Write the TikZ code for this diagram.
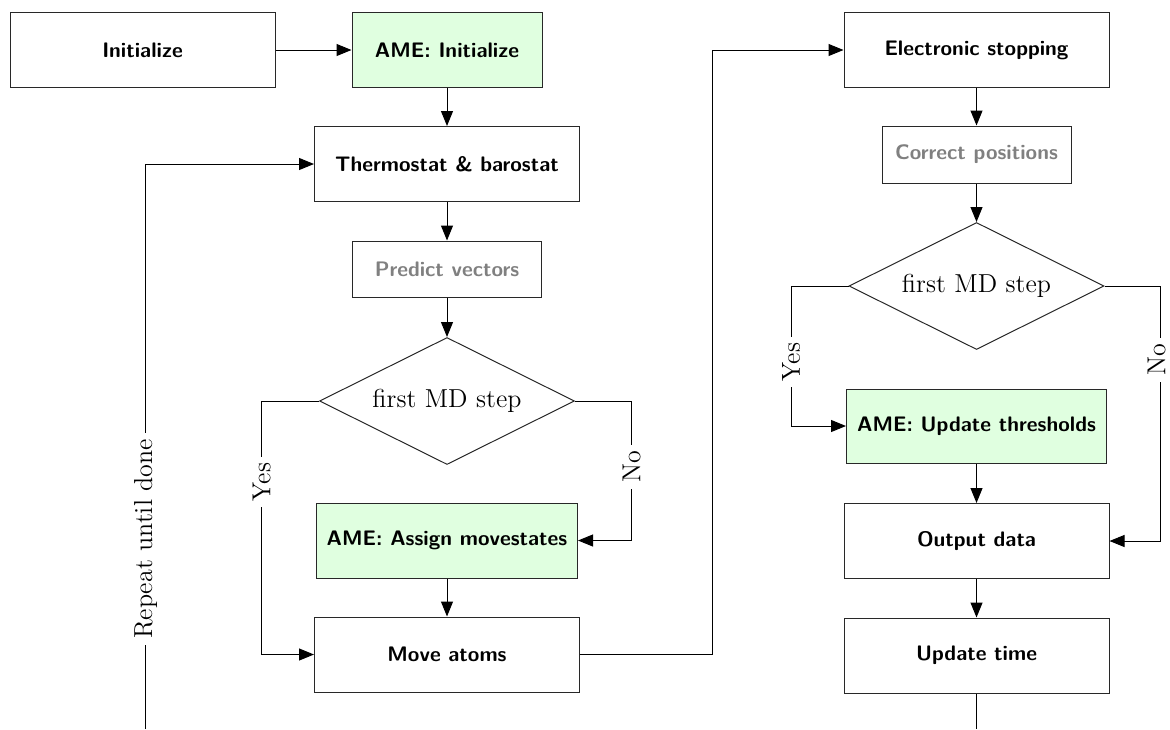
\documentclass[tikz,border=0pt]{standalone}
\usetikzlibrary{shapes.geometric,arrows.meta}
\definecolor{amegreen}{RGB}{224,255,224}
\definecolor{boxline}{RGB}{40,40,40}
\tikzset{
  box/.style={draw=boxline, line width=0.5pt, rectangle, minimum width=132.5pt, minimum height=37.5pt,
    inner sep=0pt, font=\fontsize{10.5}{12}\selectfont\sffamily\bfseries, align=center},
  amebox/.style={box, fill=amegreen},
  smallbox/.style={box, minimum width=94.5pt, minimum height=28pt, text=gray},
  decision/.style={draw=boxline, line width=0.5pt, diamond, minimum width=127.5pt, minimum height=63.5pt,
    inner sep=0pt, aspect=2, font=\fontsize{13}{15}\selectfont},
  arr/.style={line width=0.5pt, -{Triangle[length=7.5pt,width=6pt]}},
  ln/.style={line width=0.5pt},
  lab/.style={rotate=90, fill=white, inner sep=3pt, font=\fontsize{13}{15}\selectfont}
}
\begin{document}
\begin{tikzpicture}[x=0.5pt,y=-0.5pt]
\useasboundingbox (0,0) rectangle (1170,729);
% nodes
\node[box] (init) at (142.5,50) {Initialize};
\node[amebox, minimum width=95pt] (ameinit) at (447,50) {AME: Initialize};
\node[box] (thermo) at (447,164) {Thermostat \& barostat};
\node[smallbox] (predict) at (447,269) {Predict vectors};
\node[decision] (d1) at (447,401) {first MD step};
\node[amebox, minimum width=130.5pt] (assign) at (447,540.5) {AME: Assign movestates};
\node[box] (move) at (447,654.5) {Move atoms};
\node[box] (estop) at (976.5,50) {Electronic stopping};
\node[smallbox, minimum height=28.5pt] (correct) at (976.5,154.5) {Correct positions};
\node[decision] (d2) at (976.5,286) {first MD step};
\node[amebox, minimum width=130pt, minimum height=37pt] (upd) at (976.5,426) {AME: Update thresholds};
\node[box] (output) at (976.5,541) {Output data};
\node[box] (update) at (976.5,655.5) {Update time};
% helper coordinates
\coordinate (yes1x) at (261.7,0);
\coordinate (no1x) at (631.7,0);
\coordinate (yes2x) at (791,0);
\coordinate (no2x) at (1160.5,0);
\coordinate (runx) at (712,0);
\coordinate (repx) at (145.5,0);
\coordinate (bottom) at (0,729);
% connectors
\draw[arr] (init.east) -- (ameinit.west);
\draw[arr] (ameinit.south) -- (thermo.north);
\draw[arr] (thermo.south) -- (predict.north);
\draw[arr] (predict.south) -- (d1.north);
\draw[arr] (d1.west) -- (d1.west -| yes1x) -- (move.west -| yes1x) -- (move.west);
\draw[arr] (d1.east) -- (d1.east -| no1x) -- (assign.east -| no1x) -- (assign.east);
\draw[arr] (assign.south) -- (move.north);
\draw[arr] (move.east) -- (move.east -| runx) -- (estop.west -| runx) -- (estop.west);
\draw[arr] (estop.south) -- (correct.north);
\draw[arr] (correct.south) -- (d2.north);
\draw[arr] (d2.west) -- (d2.west -| yes2x) -- (upd.west -| yes2x) -- (upd.west);
\draw[arr] (d2.east) -- (d2.east -| no2x) -- (output.east -| no2x) -- (output.east);
\draw[arr] (upd.south) -- (output.north);
\draw[arr] (output.south) -- (update.north);
\draw[ln] (update.south) -- (update.south |- bottom);
\draw[arr] (repx |- bottom) -- (thermo.west -| repx) -- (thermo.west);
% labels
\node[lab] (lyes1) at (261.7,482) {Yes};
\node[lab] (lno1) at (631.7,467) {No};
\node[lab] (lyes2) at (791,362) {Yes};
\node[lab, inner ysep=0.5pt] (lno2) at (1156.5,360) {No};
\node[lab] (lrep) at (145.5,539) {Repeat until done};
\end{tikzpicture}
\end{document}
